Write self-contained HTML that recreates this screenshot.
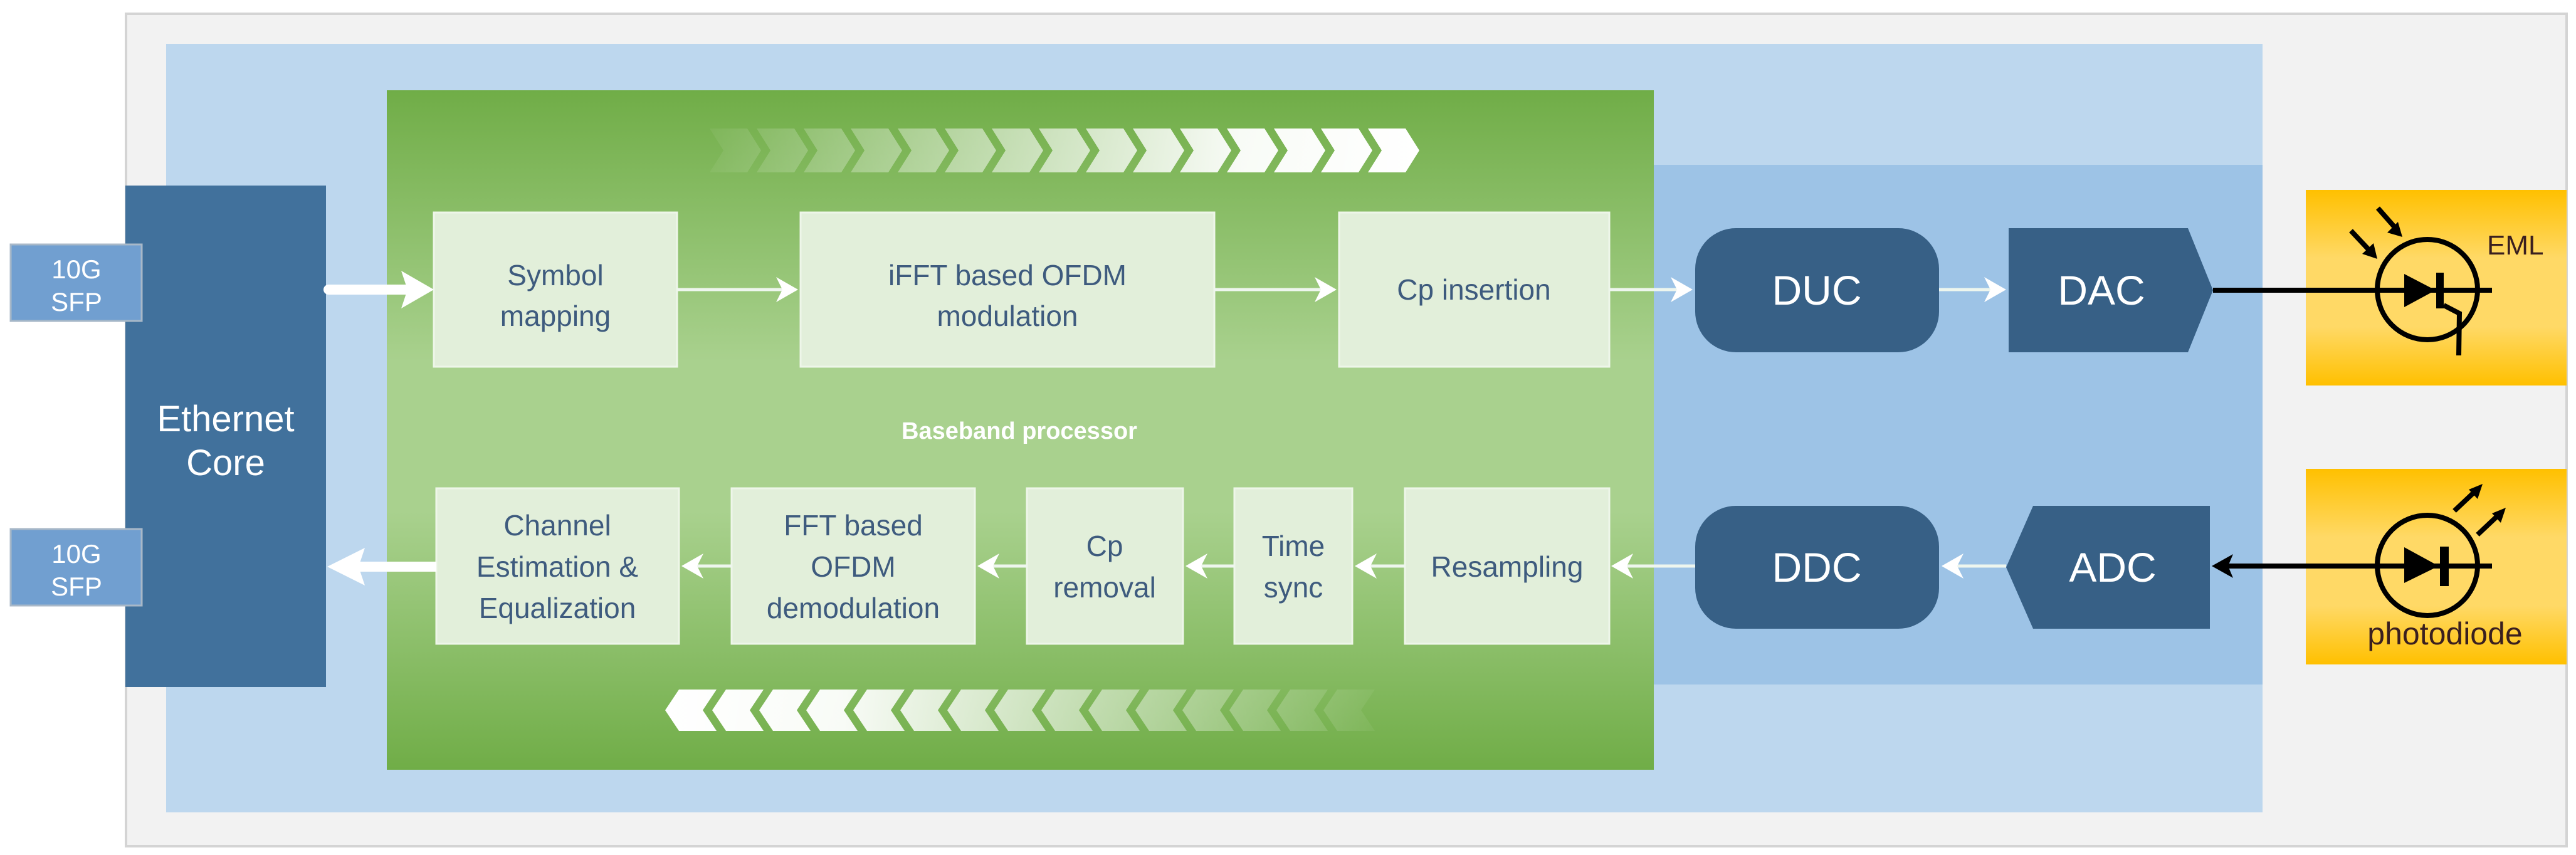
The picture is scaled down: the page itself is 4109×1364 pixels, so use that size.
<!DOCTYPE html>
<html><head><meta charset="utf-8"><style>
html,body{margin:0;padding:0;background:#fff;}
svg{display:block;}
text{font-family:"Liberation Sans",sans-serif;}
</style></head><body>
<svg width="4109" height="1364" viewBox="0 0 4109 1364" xmlns="http://www.w3.org/2000/svg">
<defs>
<linearGradient id="g" x1="0" y1="0" x2="0" y2="1">
<stop offset="0" stop-color="#70ad47"/><stop offset="0.4" stop-color="#a9d18e"/><stop offset="0.62" stop-color="#a9d18e"/><stop offset="1" stop-color="#70ad47"/></linearGradient>
<linearGradient id="y" x1="0" y1="0" x2="0" y2="1">
<stop offset="0" stop-color="#ffc000"/><stop offset="0.35" stop-color="#ffd966"/><stop offset="0.7" stop-color="#ffd966"/><stop offset="1" stop-color="#ffc000"/></linearGradient>
<linearGradient id="cr" x1="1132" y1="0" x2="2264" y2="0" gradientUnits="userSpaceOnUse">
<stop offset="0" stop-color="#fff" stop-opacity="0.05"/><stop offset="0.75" stop-color="#fff" stop-opacity="0.95"/><stop offset="1" stop-color="#fff" stop-opacity="1"/></linearGradient>
<linearGradient id="cl" x1="1061" y1="0" x2="2190" y2="0" gradientUnits="userSpaceOnUse">
<stop offset="0" stop-color="#fff" stop-opacity="1"/><stop offset="0.25" stop-color="#fff" stop-opacity="0.95"/><stop offset="1" stop-color="#fff" stop-opacity="0.05"/></linearGradient>
<marker id="wa" markerWidth="8" markerHeight="8" refX="6" refY="4" orient="auto" markerUnits="strokeWidth"><path d="M0,0 L7,4 L0,8 L2,4 Z" fill="#fff"/></marker>
</defs>
<rect x="201" y="22" width="3893" height="1328" fill="#f2f2f2" stroke="#d4d4d4" stroke-width="4"/>
<rect x="265" y="70" width="3344" height="1226" fill="#bdd7ee"/>
<rect x="2634" y="263" width="975" height="829" fill="#9dc3e6"/>
<rect x="617" y="144" width="2021" height="1084" fill="url(#g)"/>
<!-- chevrons -->
<g fill="url(#cr)">
<path id="c0" d="M1132,205 L1192,205 L1214,240 L1192,275 L1132,275 L1154,240 Z"/>
</g>
<g fill="url(#cr)" id="topch"></g>
<g fill="url(#cl)" id="botch"></g>
<!-- Ethernet -->
<rect x="200" y="296" width="320" height="800" fill="#41719c"/>
<text x="360" y="688" font-size="58" fill="#fff" text-anchor="middle">Ethernet</text>
<text x="360" y="758" font-size="58" fill="#fff" text-anchor="middle">Core</text>
<rect x="17" y="390" width="209" height="122" fill="#719fd0" stroke="#a8b8c8" stroke-width="3"/>
<text x="122" y="444" font-size="42" fill="#fff" text-anchor="middle">10G</text>
<text x="122" y="496" font-size="42" fill="#fff" text-anchor="middle">SFP</text>
<rect x="17" y="844" width="209" height="122" fill="#719fd0" stroke="#a8b8c8" stroke-width="3"/>
<text x="122" y="898" font-size="42" fill="#fff" text-anchor="middle">10G</text>
<text x="122" y="950" font-size="42" fill="#fff" text-anchor="middle">SFP</text>
<!-- green boxes -->
<g fill="#e2efda" stroke="#eef6e9" stroke-width="3">
<rect x="692" y="339" width="388" height="246"/>
<rect x="1277" y="339" width="660" height="246"/>
<rect x="2136" y="339" width="431" height="246"/>
<rect x="696" y="779" width="387" height="248"/>
<rect x="1167" y="779" width="388" height="248"/>
<rect x="1638" y="779" width="249" height="248"/>
<rect x="1969" y="779" width="188" height="248"/>
<rect x="2241" y="779" width="326" height="248"/>
</g>
<g font-size="46" fill="#3e5b7e" text-anchor="middle">
<text x="886" y="455">Symbol</text><text x="886" y="520">mapping</text>
<text x="1607" y="455">iFFT based OFDM</text><text x="1607" y="520">modulation</text>
<text x="2351" y="478">Cp insertion</text>
<text x="889" y="854">Channel</text><text x="889" y="920">Estimation &amp;</text><text x="889" y="986">Equalization</text>
<text x="1361" y="854">FFT based</text><text x="1361" y="920">OFDM</text><text x="1361" y="986">demodulation</text>
<text x="1762" y="887">Cp</text><text x="1762" y="953">removal</text>
<text x="2063" y="887">Time</text><text x="2063" y="953">sync</text>
<text x="2404" y="920">Resampling</text>
</g>
<text x="1626" y="700" font-size="38" font-weight="bold" fill="#fff" text-anchor="middle">Baseband processor</text>
<!-- thick arrows -->
<line x1="524" y1="462" x2="650" y2="462" stroke="#fff" stroke-width="16" stroke-linecap="round"/>
<path d="M640,432 L692,462 L640,492 L650,462 Z" fill="#fff"/>
<line x1="696" y1="904" x2="570" y2="904" stroke="#fff" stroke-width="16"/>
<path d="M582,874 L522,904 L582,934 L572,904 Z" fill="#fff"/>
<!-- thin arrows -->
<g stroke="#eef6ee" stroke-width="5" marker-end="url(#wa)">
<line x1="1080" y1="462" x2="1268" y2="462"/>
<line x1="1937" y1="462" x2="2127" y2="462"/>
<line x1="2567" y1="462" x2="2695" y2="462"/>
<line x1="3093" y1="462" x2="3195" y2="462"/>
<line x1="3200" y1="903" x2="3102" y2="903"/>
<line x1="2704" y1="903" x2="2575" y2="903"/>
<line x1="2241" y1="903" x2="2166" y2="903"/>
<line x1="1969" y1="903" x2="1896" y2="903"/>
<line x1="1638" y1="903" x2="1564" y2="903"/>
<line x1="1167" y1="903" x2="1092" y2="903"/>
</g>
<!-- dark blue blocks -->
<g fill="#376086">
<rect x="2704" y="364" width="389" height="198" rx="65" ry="65"/>
<path d="M3204,364 L3490,364 L3530,463 L3490,562 L3204,562 Z"/>
<rect x="2704" y="807" width="389" height="196" rx="65" ry="65"/>
<path d="M3243,807 L3525,807 L3525,1003 L3243,1003 L3200,905 Z"/>
</g>
<g font-size="66" fill="#fff" text-anchor="middle">
<text x="2898" y="486">DUC</text><text x="3352" y="486">DAC</text>
<text x="2898" y="928">DDC</text><text x="3370" y="928">ADC</text>
</g>
<!-- yellow -->
<rect x="3678" y="303" width="416" height="312" fill="url(#y)"/>
<rect x="3678" y="748" width="416" height="312" fill="url(#y)"/>
<g stroke="#000" stroke-width="8" fill="none">
<line x1="3530" y1="463" x2="3975" y2="463"/>
<circle cx="3872" cy="462" r="80"/>
<line x1="3892" y1="435" x2="3892" y2="492" stroke-width="12"/>
<polyline points="3898,487 3923,500 3922,567"/>
<line x1="3750" y1="368" x2="3780" y2="400"/>
<line x1="3793" y1="332" x2="3822" y2="365"/>
<line x1="3545" y1="903" x2="3975" y2="903"/>
<circle cx="3872" cy="902" r="80"/>
<line x1="3899" y1="872" x2="3899" y2="935" stroke-width="14"/>
<line x1="3915" y1="815" x2="3950" y2="782"/>
<line x1="3952" y1="853" x2="3987" y2="820"/>
</g>
<g fill="#000">
<path d="M3835,437 L3885,463 L3835,490 Z"/>
<path d="M3792,413 L3768,405 L3786,388 Z"/>
<path d="M3832,378 L3808,371 L3825,354 Z"/>
<path d="M3835,873 L3890,903 L3835,930 Z"/>
<path d="M3960,772 L3952,796 L3938,781 Z"/>
<path d="M3997,810 L3989,834 L3975,819 Z"/>
<path d="M3528,903 L3562,884 L3554,903 L3562,922 Z"/>
</g>
<text x="3967" y="406" font-size="44" fill="#3a1f1f">EML</text>
<text x="3900" y="1028" font-size="50" fill="#3a1f1f" text-anchor="middle">photodiode</text>
<script>
var ns="http://www.w3.org/2000/svg";
var t=document.getElementById("topch"),b=document.getElementById("botch");
document.getElementById("c0").remove();
for(var i=0;i<15;i++){var x=1132+i*75;var p=document.createElementNS(ns,"path");
p.setAttribute("d","M"+x+",205 L"+(x+60)+",205 L"+(x+82)+",240 L"+(x+60)+",275 L"+x+",275 L"+(x+22)+",240 Z");t.appendChild(p);
var x2=1061+i*75;var q=document.createElementNS(ns,"path");
q.setAttribute("d","M"+(x2+22)+",1100 L"+(x2+82)+",1100 L"+(x2+60)+",1133 L"+(x2+82)+",1166 L"+(x2+22)+",1166 L"+x2+",1133 Z");b.appendChild(q);}
</script>
</svg>
</body></html>
